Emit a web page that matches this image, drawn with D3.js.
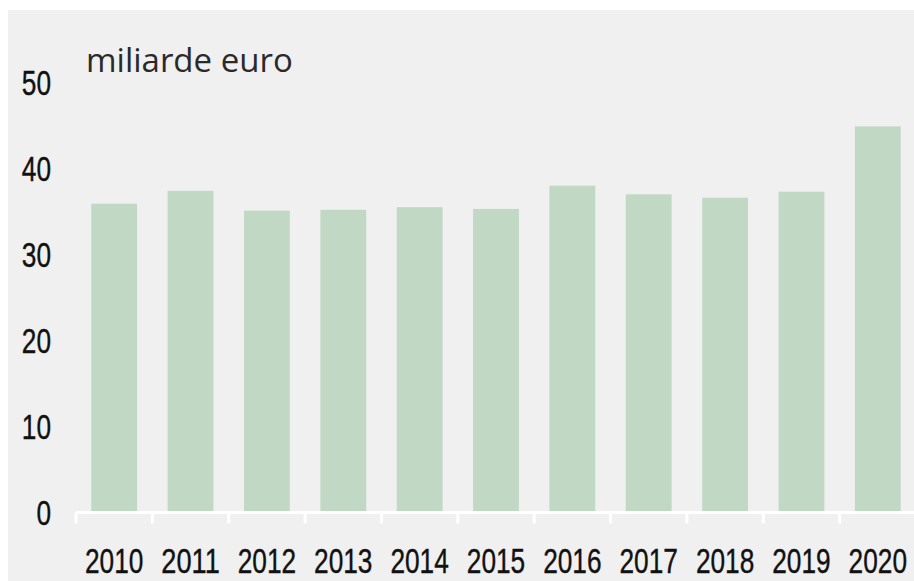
<!DOCTYPE html>
<html>
<head>
<meta charset="utf-8">
<script src="https://cdn.jsdelivr.net/npm/d3@7"></script>
<style>
  body { margin: 0; background: #ffffff; }
</style>
</head>
<body>
<div id="chart"></div>
<script>
// values in miliarde euro
const years = ["2010", "2011", "2012", "2013", "2014", "2015", "2016", "2017", "2018", "2019", "2020"];
const values = [35.9, 37.4, 35.1, 35.2, 35.5, 35.3, 38.0, 37.0, 36.6, 37.3, 44.9];
const yTicks = [0, 10, 20, 30, 40, 50];
const unitLabel = "miliarde euro";

const W = 914, H = 581;
const narrowFont = "'Liberation Sans', Arial, sans-serif";
const digitWidth = 14.6;

let svg = d3.select("#chart").append("svg")
    .attr("width", W)
    .attr("height", H);

//Grey panel
svg.append("rect")
    .attr("x", 8)
    .attr("y", 10)
    .attr("width", W - 8)
    .attr("height", H - 10)
    .attr("fill", "#f0f0f0");

let xScale = d3.scaleBand()
    .domain(years)
    .range([76, 916])
    .paddingInner(0.4)
    .paddingOuter(0.2);

let yScale = d3.scaleLinear()
    .domain([0, 50])
    .range([512.5, 82.5]);

//Bars
svg.selectAll("rect.bar")
    .data(years)
    .enter().append("rect")
    .attr("class", "bar")
    .attr("x", d => xScale(d))
    .attr("width", xScale.bandwidth())
    .attr("y", (d, i) => yScale(values[i]))
    .attr("height", (d, i) => yScale(0) - yScale(values[i]))
    .attr("fill", "#c0d8c4");

//x axis: white baseline with ticks on the band edges
let xAxis = svg.append("g")
    .attr("transform", "translate(0," + yScale(0) + ")");

xAxis.append("line")
    .attr("x1", 76)
    .attr("x2", W)
    .attr("stroke", "#ffffff")
    .attr("stroke-width", 3);

let step = xScale.step();
let bandStart = d => xScale(d) + xScale.bandwidth() / 2 - step / 2;

xAxis.selectAll("line.tick")
    .data(years)
    .enter().append("line")
    .attr("class", "tick")
    .attr("x1", bandStart)
    .attr("x2", bandStart)
    .attr("y1", 0)
    .attr("y2", 11)
    .attr("stroke", "#ffffff")
    .attr("stroke-width", 3);

xAxis.selectAll("text")
    .data(years)
    .enter().append("text")
    .attr("x", d => xScale(d) + xScale.bandwidth() / 2)
    .attr("y", 60.5)
    .attr("text-anchor", "middle")
    .attr("font-family", narrowFont)
    .attr("font-size", 35)
    .attr("textLength", d => d.length * digitWidth)
    .attr("lengthAdjust", "spacingAndGlyphs")
    .attr("fill", "#111")
    .attr("stroke", "#111")
    .attr("stroke-width", 0.4)
    .text(d => d);

//y axis labels only
svg.append("g")
    .selectAll("text")
    .data(yTicks)
    .enter().append("text")
    .attr("x", d => 51 - String(d).length * digitWidth / 2)
    .attr("y", d => yScale(d))
    .attr("dy", "0.36em")
    .attr("text-anchor", "middle")
    .attr("font-family", narrowFont)
    .attr("font-size", 35)
    .attr("textLength", d => String(d).length * digitWidth)
    .attr("lengthAdjust", "spacingAndGlyphs")
    .attr("fill", "#111")
    .attr("stroke", "#111")
    .attr("stroke-width", 0.4)
    .text(d => d);

//Unit label
svg.append("text")
    .attr("x", 86)
    .attr("y", 72)
    .attr("font-family", "'Open Sans', sans-serif")
    .attr("font-size", 33)
    .attr("fill", "#2a2a2a")
    .text(unitLabel);
</script>
</body>
</html>
